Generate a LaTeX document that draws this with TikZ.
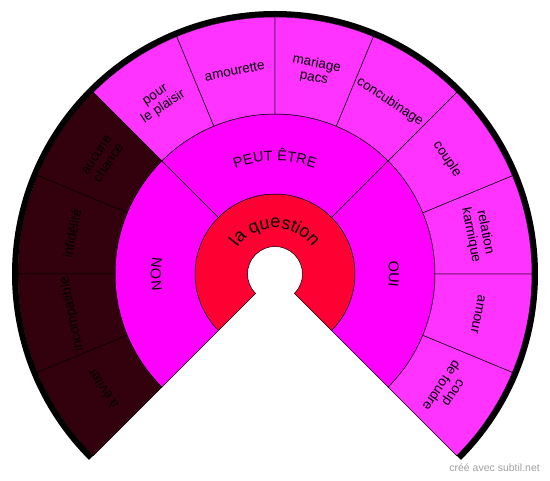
\documentclass[tikz,border=0pt]{standalone}
\usepackage{fontspec}
\setmainfont{Liberation Sans}
\usetikzlibrary{decorations.text}
\definecolor{cred}{RGB}{255,0,51}
\definecolor{cmag}{RGB}{255,0,255}
\definecolor{clight}{RGB}{255,51,255}
\definecolor{cdark}{RGB}{51,0,13}
\definecolor{cwm}{RGB}{160,160,160}
\newcommand\mysector[5]{%
  \filldraw[fill=#5,draw=black,line width=0.5pt]
    (#3:#1) arc[start angle=#3,end angle=#4,radius=#1]
    -- (#4:#2) arc[start angle=#4,end angle=#3,radius=#2] -- cycle;}
\newcommand\curvedlabel[5]{% radius, start, end, size, text
  \path[decorate,decoration={text along path,text align=center,
     text={|\fontsize{#4}{#4}\selectfont|#5}}]
     (#2:#1) arc[start angle=#2,end angle=#3,radius=#1];}
\tikzset{
  outlabel/.style={font=\fontsize{13.5}{14.5}\selectfont,align=center,inner sep=0pt},
  wm/.style={font=\fontsize{10.5}{12}\selectfont,text=cwm,inner sep=0pt,anchor=east}
}
\begin{document}
\begin{tikzpicture}[x=1pt,y=1pt]
\useasboundingbox (-275,-207) rectangle (275,274);
% black rim
\fill[black] (-45:257) arc[start angle=-45,end angle=225,radius=257]
  -- (225:263) arc[start angle=225,end angle=-45,radius=263] -- cycle;
% ring 1
\mysector{27.5}{80}{-45}{225}{cred}
% ring 2
\mysector{80}{160}{135}{225}{cmag}
\mysector{80}{160}{45}{135}{cmag}
\mysector{80}{160}{-45}{45}{cmag}
% ring 3
\foreach \a in {135,157.5,180,202.5}{\mysector{160}{257}{\a}{\a+22.5}{cdark}}
\foreach \a in {-45,-22.5,...,112.5}{\mysector{160}{257}{\a}{\a+22.5}{clight}}
% curved labels
\curvedlabel{46}{155}{25}{18}{la question}
\curvedlabel{113}{125}{55}{14.5}{PEUT ÊTRE}
\curvedlabel{114}{200}{160}{14.5}{NON}
\curvedlabel{114}{20}{-20}{14.5}{OUI}
% outer labels
\node[outlabel,rotate=33.75] (l1) at (123.75:207) {pour\\le plaisir};
\node[outlabel,rotate=11.25] (l2) at (101.25:207) {amourette};
\node[outlabel,rotate=-11.25] (l3) at (78.75:207) {mariage\\pacs};
\node[outlabel,rotate=-33.75] (l4) at (56.25:207) {concubinage};
\node[outlabel,rotate=-56.25] (l5) at (33.75:207) {couple};
\node[outlabel,rotate=-78.75] (l6) at (11.25:207) {relation\\karmique};
\node[outlabel,rotate=-101.25] (l7) at (-11.25:207) {amour};
\node[outlabel,rotate=-123.75] (l8) at (-33.75:207) {coup\\de foudre};
\node[outlabel,rotate=56.25] (l9) at (146.25:207) {aucune\\chance};
\node[outlabel,rotate=78.75] (l10) at (168.75:207) {infidélité};
\node[outlabel,rotate=101.25] (l11) at (191.25:207) {incompatible};
\node[outlabel,rotate=123.75] (l12) at (213.75:207) {à éviter};
\node[wm] (wmk) at (265,-194) {créé avec subtil.net};
\end{tikzpicture}
\end{document}
